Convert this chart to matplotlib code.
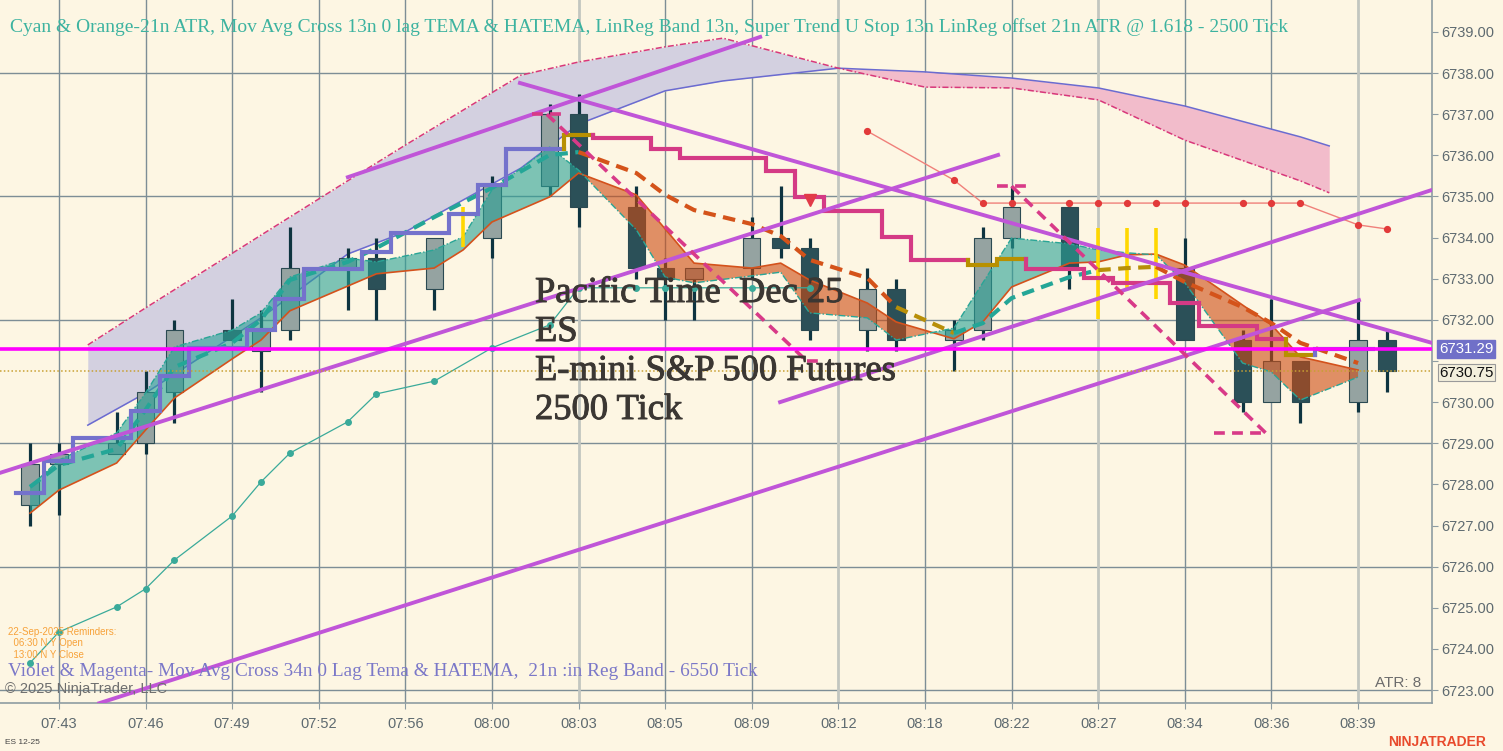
import matplotlib
matplotlib.use("Agg")
import matplotlib.pyplot as plt
import matplotlib.transforms as mtransforms
import matplotlib.patheffects as pe

# ---- 2500 tick bars (x = bar slot on the chart, y = price) ----
bar_slot = [0, 1, 3, 4, 5, 7, 8, 9, 11, 12, 14, 16, 18, 19, 21, 22, 23, 25, 26, 27,
            29, 30, 32, 33, 34, 36, 40, 42, 43, 44, 46, 47]
bar_open = [6727.5, 6728.5, 6728.75, 6729.0, 6730.25, 6731.75, 6731.25, 6731.75, 6733.25, 6733.5,
            6732.75, 6734.0, 6735.25, 6737.0, 6734.75, 6733.25, 6733.0, 6733.25, 6734.0, 6733.75,
            6731.75, 6732.75, 6731.5, 6731.75, 6734.0, 6734.75, 6733.25, 6731.5, 6730.0, 6731.0,
            6730.0, 6731.5]
bar_high = [6729.0, 6729.0, 6729.75, 6730.75, 6732.0, 6732.5, 6732.25, 6734.25, 6733.75, 6734.0,
            6734.0, 6735.5, 6737.25, 6737.5, 6735.25, 6733.5, 6733.25, 6734.5, 6735.25, 6734.0,
            6733.25, 6733.0, 6732.0, 6734.25, 6735.25, 6734.75, 6734.0, 6731.75, 6732.5, 6731.0,
            6732.5, 6731.75]
bar_low = [6727.0, 6727.25, 6728.75, 6728.75, 6729.5, 6731.5, 6730.25, 6731.5, 6732.25, 6732.0,
           6732.25, 6733.5, 6735.0, 6734.25, 6733.0, 6732.0, 6732.0, 6733.0, 6733.5, 6731.5,
           6731.25, 6731.25, 6730.75, 6731.5, 6733.75, 6732.75, 6731.5, 6729.75, 6730.0, 6729.5,
           6729.75, 6730.25]
bar_close = [6728.5, 6728.75, 6729.0, 6730.25, 6731.75, 6731.5, 6731.75, 6733.25, 6733.5, 6732.75,
             6734.0, 6735.25, 6737.0, 6734.75, 6733.25, 6733.0, 6733.25, 6734.0, 6733.75, 6731.75,
             6732.75, 6731.5, 6731.75, 6734.0, 6734.75, 6733.25, 6731.5, 6730.0, 6731.0, 6730.0,
             6731.5, 6730.75]

# ---- TEMA / HATEMA band (orange solid line, teal dash-dot line) ----
band_slot = [0, 1, 3, 4, 5, 7, 8, 9, 11, 12, 14, 15, 16, 18, 19, 21, 22, 23, 25, 26, 27,
             29, 30, 32, 33, 34, 36, 37, 38, 39, 40, 42, 43, 44, 46]
band_orange = [6727.30, 6727.86, 6728.52, 6729.32, 6730.10, 6731.05, 6731.51, 6732.22, 6732.82,
               6733.12, 6733.26, 6733.70, 6734.38, 6734.99, 6735.57, 6735.04, 6734.21, 6733.38,
               6733.26, 6733.38, 6732.97, 6732.41, 6731.95, 6731.54, 6731.95, 6732.80, 6733.38,
               6733.41, 6733.58, 6733.60, 6733.33, 6732.36, 6731.88, 6731.10, 6730.78]
band_teal = [6727.94, 6728.59, 6729.25, 6730.22, 6731.34, 6731.75, 6732.17, 6733.04, 6733.50,
             6733.41, 6733.70, 6734.02, 6735.16, 6736.20, 6735.64, 6734.19, 6733.04, 6732.90,
             6733.07, 6733.16, 6732.17, 6732.05, 6731.51, 6731.80, 6732.90, 6733.99, 6733.85,
             6733.70, 6733.63, 6733.58, 6732.90, 6730.95, 6730.73, 6730.05, 6730.61]

# ---- moving average cross signal line (dashed, coloured by state) ----
sig_slot = [0, 1, 3, 4, 5, 7, 8, 9, 11, 12, 14, 16, 18, 19, 21, 22, 23, 25, 26, 27,
            29, 30, 32, 33, 34, 36, 37, 38, 39, 40, 42, 43, 44, 46]
sig_val = [6727.94, 6728.47, 6728.86, 6729.81, 6730.85, 6731.44, 6732.00, 6732.97, 6733.41, 6733.75,
           6734.50, 6735.21, 6736.01, 6736.08, 6735.57, 6735.04, 6734.67, 6734.33, 6734.04, 6733.46,
           6733.02, 6732.31, 6731.68, 6731.92, 6732.53, 6733.04, 6733.21, 6733.26, 6733.29, 6732.92,
           6732.31, 6731.92, 6731.44, 6730.95]
sig_state = "uuuuuuuuuuuuuu" + "dddddddd" + "n" + "uuuu" + "nn" + "ddddd"

# ---- super trend stop (one value per slot 0..46) ----
st_val = [6727.79, 6728.57, 6729.13, 6729.13, 6729.78, 6730.64, 6731.32, 6731.32, 6731.75, 6732.51,
          6733.24, 6733.24, 6733.65, 6734.11, 6734.11, 6734.57, 6735.28, 6736.16, 6736.16, 6736.50,
          6736.42, 6736.42, 6736.16, 6735.94, 6735.94, 6735.94, 6735.62, 6734.99, 6734.65, 6734.65,
          6734.02, 6733.46, 6733.46, 6733.33, 6733.48, 6733.24, 6733.24, 6733.02, 6732.90, 6732.90,
          6732.41, 6731.85, 6731.85, 6731.53, 6731.15, 6731.29, 6731.29]
st_state = "u" * 19 + "n" + "d" * 13 + "nn" + "d" * 9 + "n" + "uu"

# ---- 6550 tick band (violet / magenta cloud) ----
htf_slot = [2, 4, 8, 11, 13, 17, 19, 22, 24, 28, 31, 34, 37, 40, 44, 45]
htf_blue = [6729.44, 6730.22, 6732.05, 6733.60, 6734.14, 6735.69, 6736.76, 6737.57, 6737.81,
            6738.12, 6738.03, 6737.88, 6737.64, 6737.20, 6736.45, 6736.23]
htf_dash = [6731.39, 6732.29, 6734.06, 6735.38, 6736.25, 6737.95, 6738.27, 6738.64, 6738.85,
            6738.12, 6737.66, 6737.64, 6737.35, 6736.37, 6735.38, 6735.09]

# ---- thin teal line with dots ----
tm_slot = [0, 1, 3, 4, 5, 7, 8, 9, 11, 12, 14, 16, 18, 19, 21, 22, 23, 25, 27]
tm_val = [6723.66, 6724.41, 6725.02, 6725.46, 6726.16, 6727.23, 6728.06, 6728.76, 6729.52, 6730.20,
          6730.51, 6731.32, 6731.88, 6732.78, 6732.78, 6732.78, 6732.78, 6732.78, 6732.78]

# ---- thin red line with dots ----
rd_slot = [29, 32, 33, 34, 36, 37, 38, 39, 40, 42, 43, 44, 46, 47]
rd_val = [6736.59, 6735.40, 6734.84, 6734.84, 6734.84, 6734.84, 6734.84, 6734.84, 6734.84,
          6734.84, 6734.84, 6734.84, 6734.31, 6734.21]

# ---- linreg channel lines (start/end) ----
lr_x0 = [-1.04, 2.4, 25.98, 11.01, 16.97]
lr_y0 = [6728.28, 6722.68, 6730.00, 6735.47, 6737.76]
lr_x1 = [33.53, 46.03, 48.56, 25.29, 48.56]
lr_y1 = [6736.01, 6732.48, 6735.16, 6738.88, 6731.44]

# ---- magenta dashed drawings ----
pk_x = [(17.4, 18.5), (17.9, 26.9), (26.9, 27.5), (33.5, 34.5), (34.0, 42.8), (41.0, 42.8)]
pk_y = [(6737.0, 6737.0), (6737.0, 6731.0), (6731.0, 6731.0),
        (6735.25, 6735.25), (6735.25, 6729.25), (6729.25, 6729.25)]

# ---- yellow markers ----
ym_slot = [15, 37, 38, 39]
ym_top = [6734.75, 6734.23, 6734.23, 6734.23]
ym_bot = [6733.77, 6732.02, 6732.75, 6732.51]

stop_price = 6731.29
last_price = 6730.75
arrow_slot = [27]
arrow_val = [6734.91]

tick_slot = [1, 4, 7, 10, 13, 16, 19, 22, 25, 28, 31, 34, 37, 40, 43, 46]
tick_text = ["07:43", "07:46", "07:49", "07:52", "07:56", "08:00", "08:03", "08:05",
             "08:09", "08:12", "08:18", "08:22", "08:27", "08:34", "08:36", "08:39"]
light_ticks = ["08:03", "08:12", "08:27", "08:39"]
price_ticks = list(range(6723, 6740))
hidden_price_ticks = [6731]   # covered by the price markers
grid_prices = [6723, 6726, 6729, 6732, 6735, 6738]

BG = "#fdf6e3"
W, H = 1503, 751
plt.rcParams["font.family"] = ["Liberation Sans", "DejaVu Sans"]

fig = plt.figure(figsize=(W / 100, H / 100), dpi=100)
fig.patch.set_facecolor(BG)
ax = fig.add_axes([0, 48 / H, 1432 / W, 703 / H])
ax.set_facecolor(BG)
ax.set_xlim(-1.04, 48.56)
ax.set_ylim(6722.684, 6739.778)

# grid
for p in grid_prices:
    ax.axhline(p, color="#7d8e96", lw=1, zorder=0.5)
for s, t in zip(tick_slot, tick_text):
    if t in light_ticks:
        ax.axvline(s, color="#c2c6c0", lw=2, zorder=0.5)
    else:
        ax.axvline(s, color="#7d8e96", lw=1, zorder=0.5)

# higher timeframe cloud
ax.fill_between(htf_slot, htf_blue, htf_dash, where=[d >= b for b, d in zip(htf_blue, htf_dash)],
                interpolate=True, color="#d3d0e0", lw=0, zorder=1)
ax.fill_between(htf_slot, htf_blue, htf_dash, where=[b >= d for b, d in zip(htf_blue, htf_dash)],
                interpolate=True, color="#f2bccb", lw=0, zorder=1)
ax.plot(htf_slot, htf_blue, color="#6b6bd0", lw=1.1, zorder=1.5)
ax.plot(htf_slot, htf_dash, color="#d8387a", lw=1.1, ls=(0, (4, 1.5, 1, 1.5)), zorder=1.5)

# candles
for s, o, h, l, c in zip(bar_slot, bar_open, bar_high, bar_low, bar_close):
    ax.plot([s, s], [l, h], color="#0e3440", lw=2.3, solid_capstyle="butt", zorder=2)
    up = c >= o
    ax.bar(s, max(abs(c - o), 0.05), bottom=min(o, c), width=0.6,
           color="#95a3a1" if up else "#2b5058", edgecolor="#2b4a52", lw=0.8, zorder=2.1)

# big info text
info_lines = ["Pacific Time  Dec 25", "ES", "E-mini S&P 500 Futures", "2500 Tick"]
for k, line in enumerate(info_lines):
    fig.text(535 / W, 1 - (302 + 39 * k) / H, line, fontsize=26.3, color="#3b3733",
             family=["Liberation Serif"], va="baseline", ha="left", zorder=2.5,
             path_effects=[pe.withStroke(linewidth=0.7, foreground="#3b3733")])

# TEMA/HATEMA band
ax.fill_between(band_slot, band_orange, band_teal,
                where=[t >= o for o, t in zip(band_orange, band_teal)],
                interpolate=True, color="#28a195", alpha=0.6, lw=0, zorder=3)
ax.fill_between(band_slot, band_orange, band_teal,
                where=[o >= t for o, t in zip(band_orange, band_teal)],
                interpolate=True, color="#cd4a12", alpha=0.6, lw=0, zorder=3)
ax.plot(band_slot, band_orange, color="#d4521c", lw=1.2, zorder=3.5)
ax.plot(band_slot, band_teal, color="#2aa596", lw=1.0, ls=(0, (5, 1.5, 1, 1.5)), zorder=3.5)

# thin dotted lines
ax.plot(tm_slot, tm_val, color="#3aaa9a", lw=0.9, marker="o", ms=4, zorder=4)
ax.plot(rd_slot, rd_val, color="#f0807a", lw=1.0, marker="o", ms=4.2, mfc="#e23a3a",
        mec="#e23a3a", zorder=4)

# yellow markers
ax.vlines(ym_slot, ym_bot, ym_top, color="#ffd700", lw=2.6, zorder=4)

# signal dashed line
sig_col = {"u": "#24a697", "d": "#d4531a", "n": "#b88f08"}
start = 0
for k in range(1, len(sig_slot) + 1):
    if k == len(sig_slot) or sig_state[k] != sig_state[start]:
        a = max(start - 1, 0)
        ax.plot(sig_slot[a:k], sig_val[a:k], color=sig_col[sig_state[start]], lw=3,
                ls=(0, (3, 1.8)), zorder=5)
        start = k

# super trend steps
st_col = {"u": "#7472cc", "d": "#d43a85", "n": "#b89000"}
start = 0
for k in range(1, len(st_val) + 1):
    if k == len(st_val) or st_state[k] != st_state[start]:
        xs, ys = [], []
        if start > 0:
            xs.append(start - 0.5)
            ys.append(st_val[start - 1])
        for i in range(start, k):
            xs += [i - 0.5, i + 0.5]
            ys += [st_val[i], st_val[i]]
        ax.plot(xs, ys, color=st_col[st_state[start]], lw=3, zorder=5,
                solid_joinstyle="miter")
        start = k
ax.plot(arrow_slot, arrow_val, "v", color="#e23a48", ms=8, zorder=5.5)

# linreg channel lines
for x0, y0, x1, y1 in zip(lr_x0, lr_y0, lr_x1, lr_y1):
    ax.plot([x0, x1], [y0, y1], color="#c055d8", lw=2.8, zorder=6)

# magenta dashed drawings
for xs, ys in zip(pk_x, pk_y):
    ax.plot(xs, ys, color="#d83a88", lw=2.6, ls=(0, (3, 2)), zorder=6)

# horizontal lines
ax.axhline(stop_price, color="#ff00ff", lw=2.6, zorder=7)
ax.axhline(last_price, color="#c8a032", lw=1.1, ls=(0, (1, 1.5)), zorder=7)

# axes styling
for side in ["left", "top"]:
    ax.spines[side].set_visible(False)
for side in ["right", "bottom"]:
    ax.spines[side].set_color("#8e9ca2")
    ax.spines[side].set_linewidth(1.2)
ax.yaxis.tick_right()
ax.set_yticks(price_ticks)
ax.set_yticklabels(["" if p in hidden_price_ticks else f"{p:.2f}" for p in price_ticks])
ax.set_xticks(tick_slot)
ax.set_xticklabels(tick_text)
ax.tick_params(axis="both", colors="#8e9ca2", labelcolor="#5e6a70", labelsize=10.5, length=4)
ax.tick_params(axis="y", pad=3)
ax.tick_params(axis="x", pad=6)

# price markers on the axis
tr = mtransforms.blended_transform_factory(ax.transAxes, ax.transData)
ax.text(1.0 + 7 / 1432, stop_price, f"{stop_price:.2f}", transform=tr, ha="left", va="center",
        fontsize=10.8, color="white", clip_on=False, zorder=9,
        bbox=dict(boxstyle="square,pad=0.12", fc="#7070c8", ec="#7070c8"))
ax.text(1.0 + 7 / 1432, last_price - 0.03, f"{last_price:.2f}", transform=tr, ha="left",
        va="center", fontsize=10.8, color="#111111", clip_on=False, zorder=9,
        bbox=dict(boxstyle="square,pad=0.1", fc="#f3efdc", ec="#9a9a9a", lw=0.8))

# texts
fig.text(10 / W, 1 - 27 / H,
         "Cyan & Orange-21n ATR, Mov Avg Cross 13n 0 lag TEMA & HATEMA, LinReg Band 13n, "
         "Super Trend U Stop 13n LinReg offset 21n ATR @ 1.618 - 2500 Tick",
         fontsize=14.0, color="#3db3a0", family=["Liberation Serif"], va="center", ha="left")
fig.text(8 / W, 1 - 672 / H,
         "Violet & Magenta- Mov Avg Cross 34n 0 Lag Tema & HATEMA,  21n :in Reg Band - 6550 Tick",
         fontsize=13.9, color="#7b78c8", family=["Liberation Serif"], va="center", ha="left")
fig.text(5 / W, 1 - 689 / H, "\u00a9 2025 NinjaTrader, LLC", fontsize=10.5, color="#6e6e6e",
         va="center", ha="left")
for k, line in enumerate(["22-Sep-2025 Reminders:", "  06:30 N Y Open", "  13:00 N Y Close"]):
    fig.text(8 / W, 1 - (632 + 11.5 * k) / H, line, fontsize=7, color="#f7a23a",
             va="center", ha="left")
fig.text(1375 / W, 1 - 683 / H, "ATR: 8", fontsize=11, color="#6c6c6c", va="center", ha="left")
fig.text(5 / W, 1 - 743 / H, "ES 12-25", fontsize=6, color="#444444", va="center", ha="left")
fig.text(1388 / W, 1 - 742 / H, "NINJATRADER", fontsize=10, color="#e84a2c",
         fontweight="bold", va="center", ha="left")

fig.savefig("out.png", dpi=100, facecolor=BG)
